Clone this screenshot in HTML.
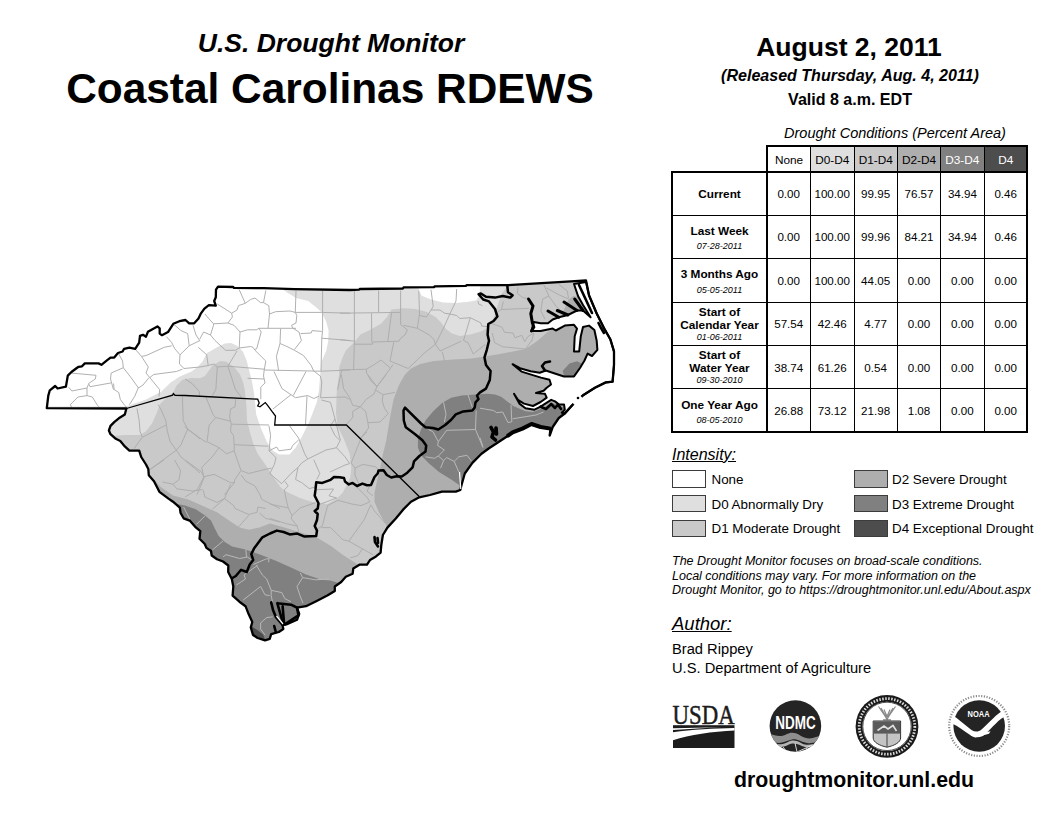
<!DOCTYPE html>
<html><head><meta charset="utf-8">
<style>
html,body{margin:0;padding:0;background:#fff;}
body{width:1056px;height:816px;position:relative;overflow:hidden;font-family:"Liberation Sans",sans-serif;color:#000;}
.abs{position:absolute;white-space:nowrap;}
.c{text-align:center;}
#t1{left:131px;width:400px;top:28.3px;font-size:26.5px;font-weight:bold;font-style:italic;}
#t2{left:30px;width:600px;top:64.5px;font-size:42.4px;font-weight:bold;}
#d1{left:649px;width:400px;top:32px;font-size:26.5px;font-weight:bold;}
#d2{left:650px;width:400px;top:66px;font-size:16.05px;font-weight:bold;font-style:italic;}
#d3{left:650px;width:400px;top:90px;font-size:16.05px;font-weight:bold;}
#dc{left:745px;width:300px;top:125px;font-size:14.5px;font-style:italic;}
svg{position:absolute;left:0;top:0;}
.lg{font-size:13.5px;}
.nt{font-size:12.5px;font-style:italic;}
</style></head><body>
<div id="t1" class="abs c">U.S. Drought Monitor</div>
<div id="t2" class="abs c">Coastal Carolinas RDEWS</div>
<div id="d1" class="abs c">August 2, 2011</div>
<div id="d2" class="abs c">(Released Thursday, Aug. 4, 2011)</div>
<div id="d3" class="abs c">Valid 8 a.m. EDT</div>
<div id="dc" class="abs c">Drought Conditions (Percent Area)</div>

<svg id="map" width="1056" height="816" viewBox="0 0 1056 816">
<defs><clipPath id="land"><path d="M46.8,408.2 L48.3,395.6 L49.8,390.3 L55.2,386 L57.6,388.5 L65.9,386.7 L67.8,375.6 L71.4,372 L76.8,368 L78.6,366.8 L82,366.3 L84.8,363.4 L98.5,363.4 L101.4,364.8 L106.3,360.8 L110.5,357.6 L114.2,357.6 L118,353 L122.6,351.5 L124.1,348.8 L129.4,347.6 L135.2,348.8 L139.2,342.7 L140,335.9 L143,334.8 L146,336.7 L147.9,331.8 L157.4,326.4 L159.7,328.3 L159.7,333.6 L162,335.2 L168,332.1 L173.3,323.8 L179.4,321.2 L185.5,320 L189.2,323.3 L194.2,323.3 L198.5,318.5 L200.6,313.9 L204.4,308.6 L208.9,305.2 L215.8,305.6 L214.2,301 L215.8,297.3 L216,289.7 L218,286.7 L233.2,287 L234,287.9 L263.5,288.2 L294.5,289.2 L350,290 L359,289.7 L359.7,289 L402.9,288.5 L403.6,287.4 L434,287.1 L434.7,286.4 L465.8,285.9 L466.5,285.2 L507,285.2 L571,281.4 L586,280.5 L589,295.3 L596.7,313.5 L604.2,328.6 L610.3,339.2 L614,351.4 L614,365 L612.6,381.7 L605.8,382.4 L595,387.7 L583,395.3 L572.4,405 L564.8,413.5 L558.8,418 L552.7,427 L549.7,435.5 L550.5,428.6 L540.6,427 L531.5,424 L522.4,428.6 L512.6,432.4 L507.3,436.2 L498.2,442.3 L489,448.3 L481.5,453.8 L472.4,462.9 L464.8,473.5 L461.8,484 L460.3,490 L455.8,491.7 L442,491.7 L430,495 L419.2,497.3 L411,501.8 L403.3,509.4 L395.8,518.5 L387.4,527.6 L382.9,535 L381.4,544.2 L380.6,552.6 L376,556.4 L370,560 L367,564.7 L359.4,564.7 L353.3,568.5 L352.6,573.8 L345.8,576.8 L341.2,582 L334.8,586.5 L334.8,591 L327.3,595.6 L316.7,601 L306,606.2 L297,607.7 L299.2,613.8 L297,619.8 L286.4,624.4 L282.6,625 L283.3,629 L278.8,632 L271.2,634.2 L269.7,638.8 L265,640.3 L257.6,638 L253,635 L250.8,627.4 L252.3,622 L248.5,613.8 L245.5,606.2 L239.4,601.7 L232.6,595.6 L233.3,586.5 L231.8,579 L228.2,572 L228.3,565.5 L223,561.5 L217,559.2 L211.7,555.5 L211,551 L206.4,547.9 L204.8,544 L199.5,538.8 L200.3,531.2 L195.8,527.4 L189.7,520.6 L183.6,518.3 L180.6,513 L179.8,507.7 L173,501.7 L168.5,498.6 L159.4,491.8 L154,481.2 L148.8,475.2 L148.3,469 L146,464.5 L141.2,457 L139.2,450.6 L129.4,450.6 L124.8,446.4 L120.3,441 L115.8,438.8 L110.5,434.2 L108.9,430.5 L110.5,425.9 L114.2,422.1 L118.8,418.3 L124.8,414.5 L126.4,408.5 Z"/></clipPath></defs>
<g clip-path="url(#land)">
<rect x="40" y="270" width="600" height="380" fill="#dfdfdf"/>
<path d="M284,270 L284,290.5 L296,298 L308.2,301 L315.8,307.1 L321.8,312.4 L326.4,322.3 L328.6,330.6 L328.2,341.2 L326.4,350.3 L321.8,361 L320.3,373 L319,390 L316.8,402.3 L309.2,422 L301.7,437 L295.6,447.7 L289.5,454.5 L279,454.5 L272.9,450.8 L266.8,441.7 L260.8,428 L256.2,414.4 L254,393 L251.7,380 L249,370 L246.8,361 L243,351.8 L237,345.8 L231,343 L224.8,343.5 L215.8,348 L206.7,353.3 L202.9,361 L197.6,367 L191.5,371.4 L179.4,376.7 L170.3,382.7 L161.2,391.8 L146,399.4 L126,406.5 L40,406.5 L40,270 Z" fill="#fff"/>
<path d="M418.8,278 L418.8,290.5 L421.8,295.8 L431,299.5 L443,302.6 L455,303 L468.8,301.8 L476.4,300.3 L479.4,295 L481,278 Z" fill="#fff"/>
<path d="M507,275 L507,286.7 L502,293.5 L498.3,303.3 L494.6,315.6 L487.7,328 L479.4,332 L470.3,334.4 L459.7,336 L452,333.6 L446,329 L441.5,323 L435.5,317 L426.4,311.7 L415.8,309 L403.6,308.2 L391.5,309.4 L387,317 L381,323.8 L370.3,329.8 L360.5,334.4 L355,341.2 L346,350.3 L343,356.4 L339.2,367 L339,375 L336.8,390 L336,413 L337.6,426.5 L343.6,438.6 L349.7,453.8 L351.2,469 L350.3,477.6 L345.8,486.7 L342.7,492.7 L336.7,498.8 L327.6,504 L314,502.6 L300,498 L285,491 L280.5,487 L272.9,476.5 L265.3,464.4 L257.7,453.8 L253.2,443.2 L250,432.6 L247,420.5 L246.4,405.3 L244.8,390 L243,382 L240,374.5 L234,367 L226.4,361.7 L220.3,361 L212.7,365.5 L205,376 L200,378.2 L191.5,377.9 L182.4,379.7 L176.4,385.8 L173,393 L166,398 L160,404 L156.7,413 L152,423.6 L146,431.2 L140,435 L124.8,435 L115.8,435.8 L100,436 L100,660 L650,660 L650,275 Z" fill="#c9c9c9"/>
<path d="M620,290 L578.4,297 L573.4,296 L568.5,299.6 L563.6,310.7 L556,326.7 L546.4,333 L537.6,340.8 L525.5,349 L500,354 L484.7,356.4 L471.8,358.6 L453.6,359.4 L434,361 L420.3,364 L411,368.5 L405,374.5 L400.6,382 L398.2,387 L393.6,399.2 L390.6,414.4 L388.3,428 L386,441.7 L383,453.8 L380,469 L377,481 L374.5,492.7 L374.5,501.8 L379,512.4 L385,523 L387.4,526.8 L395,535 L650,535 L650,290 Z" fill="#aeaeae"/>
<path d="M140,478 L152.6,478.2 L161,487.3 L173,495.6 L188.2,499.4 L201.8,505.5 L217,512.3 L229,520.6 L239.7,527.4 L248.8,529.7 L259.4,527.4 L270,523.5 L282,526.8 L297.3,531.4 L315.5,536.7 L330.6,545.8 L342.7,554.8 L354.8,562.4 L368,572 L368,660 L100,660 L100,478 Z" fill="#aeaeae"/>
<path d="M461.8,395.5 L475.5,394.5 L487.6,393.8 L495,394.5 L501.2,396.8 L507.3,401.4 L513.3,406 L525.5,411.2 L533,412 L540.6,409 L546.7,406 L552.7,403 L560,406 L572,410 L572,440 L500,462 L465,497 L458.8,484.8 L451.2,479.5 L439,472 L428.5,462.9 L421,455.3 L417.9,447.7 L417.9,438.6 L421,429.5 L425.5,420.5 L433,411.4 L442,403 L451.2,397.7 Z" fill="#808080"/>
<path d="M165,504 L176.8,504 L185,505.5 L195.8,509.2 L204.8,515.3 L211,520.6 L214.7,528.2 L218.5,535.8 L224.5,541.8 L232,546.4 L245.5,549.4 L260.6,554.7 L275.8,560.8 L291,567.6 L306,574.4 L321.2,579.7 L330.3,580.5 L342,584 L342,660 L150,660 L150,504 Z" fill="#808080"/>
<path d="M562.6,371 L569.4,363.5 L577,361.2 L581.5,363.5 L585,366 L578.5,380 L564.8,378 Z" fill="#808080"/>
<path d="M247,624 L252.5,627 L258,630.5 L263,634.5 L266,642 L247,642 Z" fill="#4d4d4d"/>
<path d="M174,324.5 L181,330.6 L187.7,333.6 L189.2,345.8 L180,354.8 L179.4,364 L184,368.5 L200,367 M193,325.3 L196,335 L200,341 M189.2,345.8 L200,340.5 M166.5,336.7 L171.8,342.7 L174.8,348.8 L180,354.8 M135.5,349.5 L141.5,356.4 L146,355.6 L164.2,347.3 L171.8,345.8 M141.5,356.4 L148.3,367 L146,373 L149.8,377.6 L159.7,389.7 M149.8,377.6 L153.6,374.5 L176.4,371.5 L182.4,369.2 M118.8,354 L122.6,361 L123.3,367.7 L111.2,373 L110.5,379 L113.5,389.7 M123.3,367.7 L131,377.6 L138.5,388 M149,377.6 L143,385 L138.5,388 M70.3,373 L96,375.3 L95.3,379 L88.5,383.6 L90,386.7 L111.2,382.9 M68.8,387.3 L71.8,391 L87,388 L88.5,384.2 M87,388 L87,395.6 L77.9,397 L70.3,404.7 L71.8,407.7 M87,395.6 L92.3,397 L97.6,405.5 L99.8,407.7 M113.5,383.5 L114.2,389.5 L118.8,392.6 L120.3,399.4 L124.8,405.5 L127,407.7 M138.5,387.3 L134.7,396.4 L129.4,404.7 M159.7,389.7 L159,396.4 M137,408.5 L139.2,420.6 L140,431.2 L142.3,437.3 L134,448.6 M142.3,437.3 L165.8,425.2 M158.2,404.7 L161.2,410 L165.8,420.6 L167.3,431.2 L170.3,441.8 L176.4,450.2 L150.6,469 M182.4,396.4 L183.2,420.6 L187.7,429 L200,438.8 M187.7,429 L181,444.8 L176.4,450.2 M176.4,450.2 L181,457 L200,472.9 M239.2,289.7 L245.3,303.3 L238.5,305.6 L237,310 L231.7,313.2 L217.3,304 M245.3,303.3 L250.6,299.5 L255,298 L260.5,302.6 L263.5,302.6 L265.8,290.5 M263.5,302.6 L268.8,305.6 L269.5,314 L268,328.3 M269.5,314 L275.6,311.7 L290,311 L295.3,312.4 L321.8,312.4 L350,313.2 M296,290.5 L295.3,312.4 L296.8,315.5 L296,323 L291.5,325.3 L293,328.3 M322.6,290.5 L322.6,330.6 L321.8,338.2 L321,370.8 M231.7,313.2 L232.4,317 L227.9,323 L213.5,323.8 L207.4,317 L205,314 M227.9,323 L234,325.3 L240,332 L247.6,329.8 L256.7,329.8 L259,328.3 L296,328.3 M240,332 L239.2,348 L250.6,346.5 L252.9,347.3 L255,350.3 L265.8,361 L264.2,370 M259,328.3 L261.2,332 L256.7,348.8 L254.4,349.5 M280.6,328.8 L280,343.5 L276.4,356.4 L278.6,370.8 M280,343.5 L287,346.5 L294.5,350.3 L303.6,355.6 L311.2,365.5 L313.5,370.8 M293,328.3 L299,332 L301.4,340.5 L294.5,349.5 M300.6,333.6 L311.2,333 L312,330.6 L321.8,331.4 M321.8,338.2 L350,340.5 M264.2,370 L321,371.2 L350,370 M213.5,323.8 L213.5,325.3 L210.5,335 L203.6,332 L199.8,339 M210.5,335 L215,340.5 L225.6,350.3 L235.5,350.3 L239.2,348 M198.3,347.3 L206.7,354.8 L208.2,365.5 L214.2,364 L217.3,367 L227.9,366.2 L237,351 M200,367 L208.2,365.5 M217.3,367 L215.8,389.7 L212.3,395.5 M227.9,366.2 L235.5,389.7 L241.8,397.7 M227.9,366.2 L264.2,369.2 M247.6,378.3 L264.2,379 M264.2,370 L263.5,376 L265,383 L260.8,387 L260.8,399.2 M274,371.5 L282,388.6 L291,394.7 L295.6,397.7 L307.7,395.5 L313.8,398.5 L319,396.2 M306,371.5 L293.3,395.5 M313.5,370.8 L320.3,376 L321.8,382 L320.6,397.7 L345,397 M341.5,370.8 L337.7,389.7 M354.4,290.5 L354.4,341.2 L353.6,370 M378.6,290.5 L378.6,312.4 M340,313.2 L400.6,312.4 M400.6,290.5 L400.6,324.5 L407.4,329.8 L405,335 L400.6,338.2 L399,341.2 L372.6,342 M371.5,313.2 L371.8,340.5 L372.6,344.2 L354.4,344.2 M391.5,313.2 L387.7,342 M418.8,290.5 L419.5,314 L417.3,328.3 M403.6,325.3 L417.3,328.3 L429.4,335 L434,339.7 L435.5,344.2 M431,289.7 L433.2,306.4 L431,310 L426.4,317 L419.5,315.5 M431,310 L440,310 L444.5,313.2 L449.8,314 M456.7,289 L456,301 L449.8,314 L444.5,326 L435.5,344.2 M449.8,314 L456.7,315.5 L459.7,318.5 L470.3,317.7 L481,323 L481.7,326 L488.5,326.8 M470.3,317.7 L463.5,340.5 L468,342.7 L473.3,354 M435.5,344.2 L440,351 L461.2,341.2 M442.3,351.8 L444.5,361 M473.3,354 L485.5,344.2 M435.5,344.2 L424.8,352.6 L408.2,368.5 M393.8,342 L390,361 L408.2,368.5 M393,364.7 L376.4,387.4 M340,370 L366.5,369.2 L374,364.7 L381,360 L390,367.7 M366.5,369.2 L366.5,373 L376.4,386 M340,339.7 L354.4,341.2 M478,301 L478.6,304 L482.4,305.6 M503.3,301.5 L501.4,309.5 L497.7,312 M501.4,309.5 L529,308.3 M490.3,323 L502,327.3 L504.5,332.3 L513,333 L515,337.8 L521.7,335.3 L524.8,341.5 L527.9,336.6 L534,333 M518,287.3 L517.4,293.5 L523,297.8 L528.5,298.4 M543.9,284.9 L548.8,296 L542.7,299 L540.8,310.7 L545,319.3 M548.8,296 L556.2,306.4 L560,310 M546.4,288 L560,295.3 L568.5,299 M558.7,284.2 L567.3,291 L568.5,298.4 M534,333 L531.6,341.5 M492.2,333 L494.6,342.7 L502.7,346.8 L525.5,349 L531.5,340.8 M341.4,375 L343.6,388.6 L349.7,397.7 L352.7,405.3 L360.3,406.8 M345,397 L349.7,399.2 M367.9,375 L371,381 L377,386.4 L386,375 M377,386.4 L375.5,390 L383,394.7 L395,392.4 M375.5,390 L374,394 L366.4,399.2 L360.3,406.8 L352.7,411.4 L352.7,417.4 L346.7,424.2 M383,394.7 L382.3,400.8 L384.5,408.3 L388.3,413.6 L380,422 L367.9,422.7 M360.3,406.8 L365.6,411.4 L367.9,422.7 L368.6,428 L360.3,438.6 M360.3,440 L351.2,462.9 L355,468.2 L362.6,464.4 L375.5,466.7 L378.5,469.7 M345,456.8 L349.7,463.6 M330,472 L345,465 L349.7,463.6 M355,468.2 L355,475 L358.8,484 M360.3,438.6 L367,431.8 M185,378.8 L192.6,384 L199.4,391.7 L199.4,395.5 M291,394.7 L272.9,409 M307,396.2 L305.5,425 M321.4,400 L330.5,402.3 L335,419 L330.5,425.8 M205.5,396.2 L213,414.4 L215.3,417.4 L230.5,421.2 M235.8,399.2 L235,406.8 L230.5,409 L229.7,417.4 L231.2,424.2 L269,425 M231.2,424.2 L230.5,431 L233.5,435.6 L234.2,444.7 L268.3,446.2 M234.2,444.7 L234.2,450.8 L226.7,453.8 L219,447.7 L207,441.7 L209.2,425 L215.3,418.2 M185,426.5 L188,429.5 L206.2,442.4 M219,447.7 L212.3,456.8 L201.7,467.4 L204,478 L197,494.7 M234.2,450.8 L237.3,460 L241,470.5 L235,479.5 L233.5,484 L224.4,494.7 M241,470.5 L248.6,473.5 L266.8,469 L271.4,468.2 M269,425.8 L270.6,435.6 L269,450.8 L276,457.6 L274.4,464.4 L269.8,473.5 L282,484 M269,450.8 L276.7,447 L279,450.8 L291,449.2 L292.6,445.5 L298.6,440 M289.5,425.8 L298.6,438 L304.7,453.8 L307.7,459 M307.7,459 L326,450 L336.5,447.7 L345,456.8 M307.7,459 L301.7,463 L298,467.4 L295.6,479.5 L301.7,482.6 L309.2,488.6 L315.3,487 M298,467.4 L291,473.5 L282,483.3 M313.8,459.8 L319.8,473.5 L316.8,479.5 M335,419 L340.3,440 L336.5,447.7 M330.5,426.5 L335,435.6 L339.5,440 M149.5,469.8 L164,460 M174.5,460 L180.6,470.6 L179,479.7 L173,484.2 L162.4,482 M173,484.2 L176.8,488.8 L192.7,491 L202.6,489.5 M185,460 L201,471.4 L204,476.7 L197.3,489.5 L185,497 M204,476.7 L214,474.4 L230.6,482.7 L235,482.7 M203.3,490.3 L204.8,497 L217,502.4 L224.5,498.6 L230.6,484.2 M224.5,498.6 L212.4,509.2 M224.5,498.6 L233.6,505.5 L235,508.5 L248.8,514.5 L257,512.3 L257.9,507 L265.5,508.5 M241.2,475 L245.8,481.2 L254.8,485.8 L260,494.8 L261.7,499.4 L280,508.5 M248.8,515.3 L238.2,527.4 M259.4,513 L265.5,518.3 L280,522 M285,481.4 L288.2,486 L284.4,489.7 L286,498.8 L288.2,507.9 L283.6,507 L270,504 M288.2,507.9 L292,515.5 L291.2,518.5 L297.3,526 L298.8,532 M292,515.5 L300.3,507.9 L315.5,502.6 M270,518.5 L286.7,523.8 L297.3,526 M317,489.7 L333.6,489 L329,495.8 L336.7,498 L318.5,504.8 M338,500.3 L351.8,504 L361,505.6 L370,501.8 L367,497.3 L354.8,485 M338,500.3 L327.6,505.6 L322.3,526 L318.5,528.3 M370.8,504.8 L364,520 L348.8,541.2 M370.8,504.8 L374.5,511 L385,523 M321.5,527.6 L330.6,527.6 L336.7,533.6 L342.7,539.7 L348.8,541.2 L362.4,548.8 L373,554.8 M362.4,548.8 L357.9,555.6 L350.3,557.9 M370,485.2 L367,491.2 L373,495.8" fill="none" stroke="#acacac" stroke-width="0.95"/>
<path d="M480,408.2 L493.6,410.5 L496.7,412.7 L502.7,412 L508,422.6 L511.8,421.8 M511,405 L511.8,421.8 M512.6,418.8 L536,415 L543.6,412 M480,437.7 L483,446.8 M443.6,402.3 L446,414.4 L444.4,422 M467.9,394.7 L472.4,407.6 M476.2,410.6 L475.5,429.5 L483,447.7 M428.5,429.5 L433,431.8 L438.3,441.7 L446.7,430.3 L475.5,429.5 M438.3,441.7 L437.6,445.5 L444.4,450 L438.3,456 L434.5,458.3 L425.5,456.8 M438.3,456 L443.6,460.6 L440.6,468.2 M443.6,460.6 L446.7,457.6 L454.2,461.4 L458.8,456.8 L467,455.3 L471.7,461.4 M454.2,461.4 L458.8,472 M183.6,507 L189.7,519 M204.8,516 L196.5,524.4 M223,541 L212.4,550 M223,557 L226,554.7 L239.7,558.5 L247.3,557 L251.8,560 M245.8,549.4 L246.5,557 M253.3,564.5 L265.5,559.2 L269.2,558.5 L268.5,562.3 M256.4,565.3 L262.4,575 L266.7,579 L271.2,590.3 L281.8,592.6 L284.8,598.6 L291,601.7 M300.3,573 L302.6,577.6 L298,585 L297,586.5 L300,595.6 L303,603.2 M302.6,577.6 L315.5,579.8 L329,579 M244,575 L257.6,565.3 M271.2,590.3 L271.2,595.6 L272.7,603.2 M244,575 L245.5,579 L236.4,585 M243.2,600 L260.6,586.5 L265,594.8 L269.7,595.6 M260.6,622.9 L266.7,617.6 L272.7,616.8 M260.6,622.9 L260.6,629 L265,635" fill="none" stroke="#b8b8b8" stroke-width="1"/>
<path d="M574,284 L586,282 L589,295.3 L596.7,313.5 L604.2,328.6 L610.3,339.2 L614,351.4 L614,365 L612.6,381.7 L605.8,382.4 L595,387.7 L583,395.3 L572.4,405 L564.8,413.5 L561.8,412.7 L564.8,409.7 L564,404.4 L558.8,404.4 L555,401.4 L551.2,399.8 L540.6,406.7 L534.5,409.7 L525.5,408.2 L519.4,403.6 L514,393.8 L517.9,399.8 L524,403.6 L533,406 L540.6,402 L546.7,397.6 L545,393.8 L536,393 L543.6,390.8 L546.7,387.7 L551,384.5 L549.5,379.8 L541,377.6 L533.6,375.4 L521.5,371.6 L512.6,364.2 L520,368.2 L530.6,371.2 L539.7,372.7 L545.8,370.5 L554.8,373.5 L564,376.5 L574,376.4 L580,368 L584.5,360.5 L587.6,353.6 L592,356 L597.4,349.8 L596.7,340.8 L594.4,330 L589,325.6 L583,327 L580.8,336.2 L579.2,351.4 L574,351.4 L574.7,336.2 L577,328.6 L574,324.8 L564.8,325.6 L555.8,330.5 L552.7,328.6 L540.6,331 L531.5,331 L533.8,322 L540.6,323.3 L548,323.3 L552.7,319.5 L558.8,317.3 L567.9,315 L577,310.5 L583,310.5 L590.6,317.3 L583,305 L578,296 Z" fill="#fff"/>
</g>
<path d="M126.4,408.5 L172.6,395.2 L173.3,393.6 L175,395.3 L185,395.5 L257.7,399.2 L259.2,403 L257.7,406 L260,406.8 L265.3,402.6 L267.6,405.3 L272,411.4 L275.5,416 L274.7,425 L346.4,425 L419.2,496.5" fill="none" stroke="#000" stroke-width="1.3"/>
<path d="M574,284 L586,282 L589,295.3 L596.7,313.5 L604.2,328.6 L610.3,339.2 L614,351.4 L614,365 L612.6,381.7 L605.8,382.4 L595,387.7 L583,395.3 L572.4,405 L564.8,413.5 L561.8,412.7 L564.8,409.7 L564,404.4 L558.8,404.4 L555,401.4 L551.2,399.8 L540.6,406.7 L534.5,409.7 L525.5,408.2 L519.4,403.6 L514,393.8 L517.9,399.8 L524,403.6 L533,406 L540.6,402 L546.7,397.6 L545,393.8 L536,393 L543.6,390.8 L546.7,387.7 L551,384.5 L549.5,379.8 L541,377.6 L533.6,375.4 L521.5,371.6 L512.6,364.2 L520,368.2 L530.6,371.2 L539.7,372.7 L545.8,370.5 L554.8,373.5 L564,376.5 L574,376.4 L580,368 L584.5,360.5 L587.6,353.6 L592,356 L597.4,349.8 L596.7,340.8 L594.4,330 L589,325.6 L583,327 L580.8,336.2 L579.2,351.4 L574,351.4 L574.7,336.2 L577,328.6 L574,324.8 L564.8,325.6 L555.8,330.5 L552.7,328.6 L540.6,331 L531.5,331 L533.8,322 L540.6,323.3 L548,323.3 L552.7,319.5 L558.8,317.3 L567.9,315 L577,310.5 L583,310.5 L590.6,317.3 L583,305 L578,296 Z" fill="none" stroke="#000" stroke-width="2" stroke-linejoin="round"/>
<path d="M46.8,408.2 L48.3,395.6 L49.8,390.3 L55.2,386 L57.6,388.5 L65.9,386.7 L67.8,375.6 L71.4,372 L76.8,368 L78.6,366.8 L82,366.3 L84.8,363.4 L98.5,363.4 L101.4,364.8 L106.3,360.8 L110.5,357.6 L114.2,357.6 L118,353 L122.6,351.5 L124.1,348.8 L129.4,347.6 L135.2,348.8 L139.2,342.7 L140,335.9 L143,334.8 L146,336.7 L147.9,331.8 L157.4,326.4 L159.7,328.3 L159.7,333.6 L162,335.2 L168,332.1 L173.3,323.8 L179.4,321.2 L185.5,320 L189.2,323.3 L194.2,323.3 L198.5,318.5 L200.6,313.9 L204.4,308.6 L208.9,305.2 L215.8,305.6 L214.2,301 L215.8,297.3 L216,289.7 L218,286.7 L233.2,287 L234,287.9 L263.5,288.2 L294.5,289.2 L350,290 L359,289.7 L359.7,289 L402.9,288.5 L403.6,287.4 L434,287.1 L434.7,286.4 L465.8,285.9 L466.5,285.2 L507,285.2 L571,281.4 L586,280.5 L589,295.3 L596.7,313.5 L604.2,328.6 L610.3,339.2 L614,351.4 L614,365 L612.6,381.7 L605.8,382.4 L595,387.7 L583,395.3 L572.4,405 L564.8,413.5 L558.8,418 L552.7,427 L549.7,435.5 L550.5,428.6 L540.6,427 L531.5,424 L522.4,428.6 L512.6,432.4 L507.3,436.2 L498.2,442.3 L489,448.3 L481.5,453.8 L472.4,462.9 L464.8,473.5 L461.8,484 L460.3,490 L455.8,491.7 L442,491.7 L430,495 L419.2,497.3 L411,501.8 L403.3,509.4 L395.8,518.5 L387.4,527.6 L382.9,535 L381.4,544.2 L380.6,552.6 L376,556.4 L370,560 L367,564.7 L359.4,564.7 L353.3,568.5 L352.6,573.8 L345.8,576.8 L341.2,582 L334.8,586.5 L334.8,591 L327.3,595.6 L316.7,601 L306,606.2 L297,607.7 L299.2,613.8 L297,619.8 L286.4,624.4 L282.6,625 L283.3,629 L278.8,632 L271.2,634.2 L269.7,638.8 L265,640.3 L257.6,638 L253,635 L250.8,627.4 L252.3,622 L248.5,613.8 L245.5,606.2 L239.4,601.7 L232.6,595.6 L233.3,586.5 L231.8,579 L228.2,572 L228.3,565.5 L223,561.5 L217,559.2 L211.7,555.5 L211,551 L206.4,547.9 L204.8,544 L199.5,538.8 L200.3,531.2 L195.8,527.4 L189.7,520.6 L183.6,518.3 L180.6,513 L179.8,507.7 L173,501.7 L168.5,498.6 L159.4,491.8 L154,481.2 L148.8,475.2 L148.3,469 L146,464.5 L141.2,457 L139.2,450.6 L129.4,450.6 L124.8,446.4 L120.3,441 L115.8,438.8 L110.5,434.2 L108.9,430.5 L110.5,425.9 L114.2,422.1 L118.8,418.3 L124.8,414.5 L126.4,408.5 Z" fill="none" stroke="#000" stroke-width="2.3" stroke-linejoin="round"/>
<path d="M507.3,285.5 L508,292.3 L512.6,295.3 L510.3,297.6 L502.7,296 L495,297.6 L486,296.8 L480.9,293.5 L478.6,294.2 L483.2,299.5 L489,301.4 L495,309 L497.4,316.5 L493.6,321 L488.3,324 L487.6,334.7 L489,340.8 L486.8,349.8 L484.5,357.4 L486,365 L490.6,371 L489.8,380 L486,388.6 L480,392.4 L477,395.5 L478.5,399.2 L475.5,402.3 L474.7,407.6 L472.4,410.6 L463.3,411.4 L455.8,414.4 L451.2,419.7 L445.2,425 L438.3,429.5 L433,428 L425.5,427.3 L421,423.5 L405,407.6 L403.5,410.6 L403.8,420.5 L405.8,427.3 L414.8,434 L422.4,440.2 L426.2,445.5 L425.5,451.5 L419.4,456 L414,461.4 L412.6,467.4 L407.3,472.7 L401.8,476.5 L396.7,476.2 L391.2,477.5 L386.8,475 L383.5,470.3 L378.5,470.5 L377.7,473.5 L374.5,477 L371,485 L367,485.2 L362.4,483.6 L357,486 L352.6,482.9 L348.8,484.4 L345,481.4 L344,478 L339.5,477.3 L334,477 L330.6,479.8 L322.3,482.9 L316.2,482.3 L315.5,489.7 L314.7,495.8 L318.5,503.3 L317.7,508.6 L314.7,511 L317.7,514 L317,520 L314.7,526 L317,530.6 L316.2,536 L304,536.4 L297.3,533.6 L289.7,534.4 L283.6,532 L276.8,530.6 L270,533.5 L262.4,537.3 L257.9,543.3 L254,548.6 L251.3,554 L253.2,560 L249.7,564.5 L246.8,572 L241.1,569.8 L235.8,576 L231.6,578.5" fill="none" stroke="#000" stroke-width="2.5" stroke-linejoin="round"/>
<path d="M548,311 L558.8,317.3" fill="none" stroke="#000" stroke-width="3" stroke-linecap="round"/>
<path d="M557.3,310.5 L567.9,315" fill="none" stroke="#000" stroke-width="3" stroke-linecap="round"/>
<path d="M564,302 L577,310.5" fill="none" stroke="#000" stroke-width="3" stroke-linecap="round"/>
<path d="M574.7,299 L583,310.5" fill="none" stroke="#000" stroke-width="3" stroke-linecap="round"/>
<path d="M528.5,299 L533,306 L530.8,313.5 L532.3,322.6 L533.8,327 L531.5,331" fill="none" stroke="#000" stroke-width="3" stroke-linecap="round"/>
<path d="M579,285 L586,300 L592,313" fill="none" stroke="#000" stroke-width="2.6" stroke-linecap="round" stroke-linejoin="round"/>
<path d="M598.5,323 L600.5,327 L604,333" fill="none" stroke="#000" stroke-width="2.6" stroke-linecap="round" stroke-linejoin="round"/>
<path d="M507.3,436.2 L512.6,432.4 L522.4,428.6 L531.5,424 L540.6,427 L550.5,428.6" fill="none" stroke="#000" stroke-width="2.6" stroke-linecap="round" stroke-linejoin="round"/>
<path d="M545,370.5 L542,366 L545,362.5 L550,361.5" fill="none" stroke="#000" stroke-width="2.6" stroke-linecap="round" stroke-linejoin="round"/>
<path d="M540.6,406.7 L546,409 L551.2,404 L555,408 L558,404.5 L561,409" fill="none" stroke="#000" stroke-width="2.6" stroke-linecap="round" stroke-linejoin="round"/>
<path d="M271.2,602.4 L273,610 L275.8,616.8 L282.6,625" fill="none" stroke="#000" stroke-width="2.6" stroke-linecap="round" stroke-linejoin="round"/>
<path d="M277.3,603.2 L291,604.7 L297,607.7 L298.5,615.3 L284.8,624.4 L281.8,619 L277.3,603.2" fill="none" stroke="#000" stroke-width="2.6" stroke-linecap="round" stroke-linejoin="round"/>
<path d="M282.6,606.2 L284,622.9" fill="none" stroke="#000" stroke-width="2.6" stroke-linecap="round" stroke-linejoin="round"/>
<path d="M274.2,626 L275.8,632" fill="none" stroke="#000" stroke-width="2.6" stroke-linecap="round" stroke-linejoin="round"/>
<path d="M491,427.5 L493.5,432 L492,437 L495.5,440" fill="none" stroke="#000" stroke-width="2.6" stroke-linecap="round" stroke-linejoin="round"/>
<path d="M496,428 L496.5,434" fill="none" stroke="#000" stroke-width="2.6" stroke-linecap="round" stroke-linejoin="round"/>
<path d="M374.5,537 L375,542 L378,546.5" fill="none" stroke="#000" stroke-width="2.6" stroke-linecap="round" stroke-linejoin="round"/>
<path d="M377.5,538 L378,543" fill="none" stroke="#000" stroke-width="2.6" stroke-linecap="round" stroke-linejoin="round"/>
<path d="M581.2,396.6 L573.6,403.8" stroke="#fff" stroke-width="4.5" fill="none"/>
<circle cx="578" cy="398" r="1.3" fill="#000"/>
<path d="M507.3,436.2 L512.6,432.4 L522.4,428.6 L531.5,424 L540.6,427 L550.5,428.6" stroke="#000" stroke-width="4" fill="none" stroke-linejoin="round"/>
<path d="M491,427.5 L493.5,432 L492,437 L495.5,440 M496,428 L496.5,434" stroke="#000" stroke-width="3.6" fill="none" stroke-linecap="round" stroke-linejoin="round"/>
<path d="M459.5,472 L460.8,489" stroke="#fff" stroke-width="1.2" fill="none"/>
<path d="M276.5,616 L283,624" stroke="#fff" stroke-width="1.2" fill="none"/>
</svg>
<svg id="tbl" width="1056" height="816" viewBox="0 0 1056 816" font-family="Liberation Sans, sans-serif">
<!-- header fills -->
<rect x="810.5" y="146" width="43.5" height="26" fill="#dfdfdf"/>
<rect x="854" y="146" width="43.3" height="26" fill="#c9c9c9"/>
<rect x="897.3" y="146" width="43.2" height="26" fill="#aeaeae"/>
<rect x="940.5" y="146" width="43.8" height="26" fill="#808080"/>
<rect x="984.3" y="146" width="42.7" height="26" fill="#4d4d4d"/>
<!-- thin grid -->
<g stroke="#000" stroke-width="1" shape-rendering="crispEdges">
<line x1="810.5" y1="146" x2="810.5" y2="432"/>
<line x1="854" y1="146" x2="854" y2="432"/>
<line x1="897.5" y1="146" x2="897.5" y2="432"/>
<line x1="940.5" y1="146" x2="940.5" y2="432"/>
<line x1="984.5" y1="146" x2="984.5" y2="432"/>
<line x1="672" y1="215.5" x2="1027" y2="215.5"/>
<line x1="672" y1="258.5" x2="1027" y2="258.5"/>
<line x1="672" y1="302" x2="1027" y2="302"/>
<line x1="672" y1="345.5" x2="1027" y2="345.5"/>
<line x1="672" y1="388.5" x2="1027" y2="388.5"/>
</g>
<!-- thick borders -->
<g stroke="#000" stroke-width="2.2" fill="none" shape-rendering="crispEdges">
<path d="M767,432 V146 H1027 V432 H672 V172 H1027"/>
</g>
<g font-size="11.8" text-anchor="middle" fill="#000">
<text x="789" y="164">None</text>
<text x="832.3" y="164">D0-D4</text>
<text x="875.7" y="164">D1-D4</text>
<text x="919" y="164">D2-D4</text>
<text x="962.3" y="164" fill="#fff">D3-D4</text>
<text x="1005.7" y="164" fill="#fff">D4</text>
</g>
<g id="vals" font-size="11.6" text-anchor="middle" fill="#000">
<text x="788.7" y="198.0">0.00</text>
<text x="832.2" y="198.0">100.00</text>
<text x="875.6" y="198.0">99.95</text>
<text x="919" y="198.0">76.57</text>
<text x="962.4" y="198.0">34.94</text>
<text x="1005.7" y="198.0">0.46</text>
<text x="719.5" y="197.8" font-weight="bold" font-size="11.8">Current</text>
<text x="788.7" y="241.4">0.00</text>
<text x="832.2" y="241.4">100.00</text>
<text x="875.6" y="241.4">99.96</text>
<text x="919" y="241.4">84.21</text>
<text x="962.4" y="241.4">34.94</text>
<text x="1005.7" y="241.4">0.46</text>
<text x="719.5" y="234.9" font-weight="bold" font-size="11.8">Last Week</text>
<text x="719.5" y="249.1" font-style="italic" font-size="9">07-28-2011</text>
<text x="788.7" y="284.8">0.00</text>
<text x="832.2" y="284.8">100.00</text>
<text x="875.6" y="284.8">44.05</text>
<text x="919" y="284.8">0.00</text>
<text x="962.4" y="284.8">0.00</text>
<text x="1005.7" y="284.8">0.00</text>
<text x="719.5" y="278.3" font-weight="bold" font-size="11.8">3 Months Ago</text>
<text x="719.5" y="292.5" font-style="italic" font-size="9">05-05-2011</text>
<text x="788.7" y="328.2">57.54</text>
<text x="832.2" y="328.2">42.46</text>
<text x="875.6" y="328.2">4.77</text>
<text x="919" y="328.2">0.00</text>
<text x="962.4" y="328.2">0.00</text>
<text x="1005.7" y="328.2">0.00</text>
<text x="719.5" y="315.6" font-weight="bold" font-size="11.8">Start of</text>
<text x="719.5" y="328.7" font-weight="bold" font-size="11.8">Calendar Year</text>
<text x="719.5" y="339.8" font-style="italic" font-size="9">01-06-2011</text>
<text x="788.7" y="371.6">38.74</text>
<text x="832.2" y="371.6">61.26</text>
<text x="875.6" y="371.6">0.54</text>
<text x="919" y="371.6">0.00</text>
<text x="962.4" y="371.6">0.00</text>
<text x="1005.7" y="371.6">0.00</text>
<text x="719.5" y="359.0" font-weight="bold" font-size="11.8">Start of</text>
<text x="719.5" y="372.1" font-weight="bold" font-size="11.8">Water Year</text>
<text x="719.5" y="383.2" font-style="italic" font-size="9">09-30-2010</text>
<text x="788.7" y="415.0">26.88</text>
<text x="832.2" y="415.0">73.12</text>
<text x="875.6" y="415.0">21.98</text>
<text x="919" y="415.0">1.08</text>
<text x="962.4" y="415.0">0.00</text>
<text x="1005.7" y="415.0">0.00</text>
<text x="719.5" y="408.5" font-weight="bold" font-size="11.8">One Year Ago</text>
<text x="719.5" y="422.7" font-style="italic" font-size="9">08-05-2010</text>
</g>
</svg>

<svg id="leg" width="1056" height="816" viewBox="0 0 1056 816" font-family="Liberation Sans, sans-serif">
<g stroke="#3c3c3c" stroke-width="1" shape-rendering="crispEdges">
<rect x="672.5" y="470.5" width="33" height="17" fill="#ffffff"/>
<rect x="672.5" y="495.5" width="33" height="16" fill="#dfdfdf"/>
<rect x="672.5" y="520.5" width="33" height="16" fill="#c9c9c9"/>
<rect x="854.5" y="470.5" width="33" height="17" fill="#aeaeae"/>
<rect x="854.5" y="495.5" width="33" height="16" fill="#808080"/>
<rect x="854.5" y="520.5" width="33" height="16" fill="#4d4d4d"/>
</g>
<g font-size="13.4" fill="#000">
<text x="711.5" y="484">None</text>
<text x="711.5" y="508.6">D0 Abnormally Dry</text>
<text x="711.5" y="532.8">D1 Moderate Drought</text>
<text x="892" y="484">D2 Severe Drought</text>
<text x="892" y="508.6">D3 Extreme Drought</text>
<text x="892" y="532.8">D4 Exceptional Drought</text>
</g>
</svg>
<div class="abs" style="left:672px;top:445.5px;font-size:16px;font-style:italic;text-decoration:underline;">Intensity:</div>
<div class="abs" style="left:672px;top:613px;font-size:18.5px;font-style:italic;text-decoration:underline;">Author:</div>
<div class="abs" style="left:672px;top:641px;font-size:14.7px;">Brad Rippey</div>
<div class="abs" style="left:672px;top:660px;font-size:14.7px;">U.S. Department of Agriculture</div>
<div class="abs nt" style="left:672px;top:554px;line-height:14.6px;">The Drought Monitor focuses on broad-scale conditions.<br>Local conditions may vary. For more information on the<br>Drought Monitor, go to https://droughtmonitor.unl.edu/About.aspx</div>
<svg id="logos" width="1056" height="816" viewBox="0 0 1056 816">
<!-- USDA -->
<g>
<text x="672.6" y="723.8" font-family="Liberation Serif, serif" font-size="27" textLength="62" lengthAdjust="spacingAndGlyphs" fill="#1c1c1c" stroke="#1c1c1c" stroke-width="0.5">USDA</text>
<rect x="673" y="725.2" width="61.5" height="22.8" fill="#1c1c1c"/>
<path d="M673,728.2 C690,728 705,727.6 722,726.9 L673,730 Z" fill="#fff"/>
<path d="M673,732.2 C692,729.6 714,728.4 734.5,728 L734.5,730.6 C712,731.6 690,735 673,740.2 Z" fill="#fff"/>
</g>
<!-- NDMC -->
<g>
<circle cx="795.4" cy="726" r="25.8" fill="#242424"/>
<clipPath id="ndc"><circle cx="795.4" cy="726" r="25.8"/></clipPath>
<g clip-path="url(#ndc)">
<path d="M768,733.5 C775,735.5 780,737.5 786,734.5 C792,731.5 796,733 801,736 C806,739 811,739 816,737 C819,736 821,735.5 823,735.5 L823,741 C818,741 813,744 807,743 C801,742 797,738.5 792,739.5 C786,741 781,744.5 774,742 L768,739 Z" fill="#8e8e8e"/>
<path d="M770,741 C776,745.5 782,745 788,742 C793,739.5 797,740.5 802,743.5 C808,746.5 814,744 822,741.5 L822,743.5 C814,746.5 808,749 802,746 C797,743.5 793,742.5 788,745 C782,748 776,748 770,744 Z" fill="#b5b5b5"/>
<path d="M783,747 L788,753 M795,743 L797,752 L806,748 M797,752 L795,757 M806,748 L812,745 M806,748 L809,754" stroke="#e8e8e8" stroke-width="0.9" fill="none"/>
</g>
<text x="775.2" y="728.6" font-family="Liberation Sans, sans-serif" font-weight="bold" font-size="18" textLength="40.5" lengthAdjust="spacingAndGlyphs" fill="#fff">NDMC</text>
</g>
<!-- DOC seal -->
<g>
<circle cx="887" cy="726.4" r="31.4" fill="#1a1a1a"/>
<circle cx="887" cy="726.4" r="27.8" fill="none" stroke="#dcdcdc" stroke-width="2.8" stroke-dasharray="1.5 1.5"/>
<circle cx="887" cy="726.4" r="24.6" fill="#fff"/>
<circle cx="887" cy="726.4" r="24.2" fill="none" stroke="#222" stroke-width="0.8"/>
<path d="M873.2,721 H900.6 V738 C900.6,742 895,745.5 887,747.2 C879,745.5 873.2,742 873.2,738 Z" fill="#c4c4c4" stroke="#333" stroke-width="1"/>
<path d="M873.7,721.5 H900.1 V733.6 H873.7 Z" fill="#5a5a5a"/>
<path d="M887,733.6 V746.8" stroke="#444" stroke-width="1"/>
<path d="M877.5,730.5 L884,726 L888,729 L893,725.5 L896.5,731" stroke="#e0e0e0" stroke-width="1.6" fill="none"/>
<path d="M878.5,706.5 L885,716 L887,719.5 L889,716 L895.5,706.5 M881,708 L886.5,717.5 M893,708 L887.5,717.5 M884,709.5 L887,716.5 L890,709.5" stroke="#8a8a8a" stroke-width="1.2" fill="none"/>
<path d="M883,720 H891" stroke="#666" stroke-width="1.2"/>
</g>
<!-- NOAA -->
<g>
<circle cx="979.2" cy="726" r="30" fill="none" stroke="#8c8c8c" stroke-width="2.2" stroke-dasharray="1.2 1.5"/>
<circle cx="979.2" cy="726" r="25.8" fill="#242424"/>
<clipPath id="noc"><circle cx="979.2" cy="726" r="27"/></clipPath>
<g clip-path="url(#noc)">
<path d="M952,715 C958,718.5 965,725 971.5,730 C975,732.2 978.5,732 981.5,729.5 C989,723 996,714 1006,708.5 L1007,715.5 C999,718.5 992,728 985.5,734 C981,738 975.5,738.2 970.5,735.2 C964,731 958,726 952,723.5 Z" fill="#fff"/>
<path d="M970.5,735.2 L990.5,731.2 L989,733.8 L975,737.5 Z" fill="#fff"/>
</g>
<text x="967.6" y="716.6" font-family="Liberation Sans, sans-serif" font-weight="bold" font-size="9" textLength="22" lengthAdjust="spacingAndGlyphs" fill="#fff">NOAA</text>
</g>
</svg>
<div class="abs c" style="left:654px;width:400px;top:768px;font-size:21.3px;font-weight:bold;">droughtmonitor.unl.edu</div>
</body></html>
